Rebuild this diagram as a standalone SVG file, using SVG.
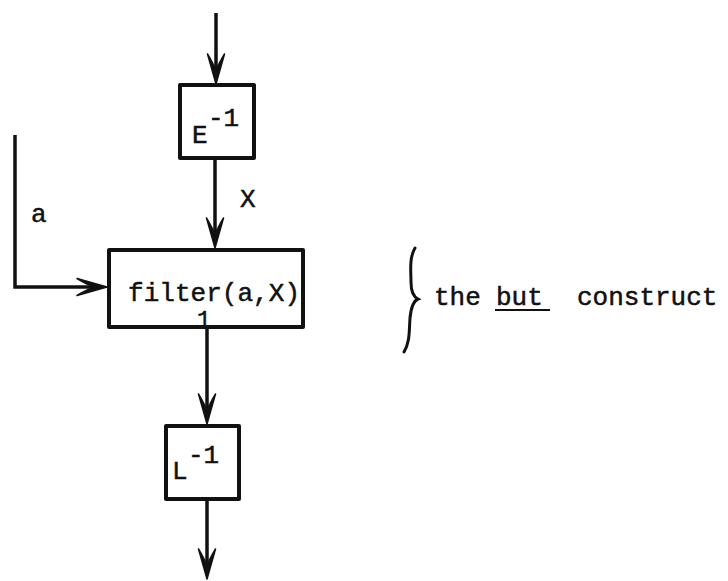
<svg xmlns="http://www.w3.org/2000/svg" width="728" height="581" viewBox="0 0 728 581">
<style>
.box{fill:#fff;stroke:#111;stroke-width:4;stroke-linejoin:round}
.ln{fill:none;stroke:#111;stroke-width:3.5;marker-end:url(#ah)}
.t{font-family:"Liberation Mono","DejaVu Sans Mono",monospace;font-size:26px;fill:#111;stroke:#111;stroke-width:0.5}
</style>
<defs>
<marker id="ah" markerUnits="userSpaceOnUse" viewBox="-32 -10 34 20" markerWidth="34" markerHeight="20" refX="-12" refY="0" orient="auto" overflow="visible">
<path d="M0,0 L-30,-8.5 Q-20,-2.5 -13,0 Q-20,2.5 -30,8.5 Z" fill="#111" stroke="#111" stroke-width="1.5" stroke-linejoin="round"/>
</marker>
</defs>
<rect width="728" height="581" fill="#fff"/>
<g id="connectors">
<path class="ln" d="M216,13 V72"/>
<path class="ln" d="M215,160 V236"/>
<path class="ln" d="M207,329 V412"/>
<path class="ln" d="M207,501 V567"/>
<path class="ln" d="M15,135 V287 H95"/>
</g>
<g id="node-E">
<rect class="box" x="180" y="85" width="74" height="73"/>
<text class="t" x="192" y="143">E</text>
<text class="t" x="208" y="126">-1</text>
</g>
<g id="node-filter">
<rect class="box" x="109" y="250" width="194" height="77"/>
<text class="t" x="128" y="301" textLength="172" lengthAdjust="spacing">filter(a,X)</text>
<text class="t" x="197" y="327" style="font-size:23px">1</text>
</g>
<g id="node-L">
<rect class="box" x="166" y="426" width="73" height="73"/>
<text class="t" x="172" y="479">L</text>
<text class="t" x="188" y="463">-1</text>
</g>
<g id="labels">
<text class="t" x="240" y="207">X</text>
<text class="t" x="31" y="222">a</text>
</g>
<g id="brace">
<path d="M415,248 C409,258 411,272 411,282 C411,292 414,297 418,299 C413,301 411,308 410,318 C409,332 410,342 404,352" fill="none" stroke="#111" stroke-width="3" stroke-linecap="round"/>
<text class="t" x="434" y="305">the</text>
<text class="t" x="496" y="305">but</text>
<line x1="495" y1="310" x2="550" y2="310" stroke="#111" stroke-width="2"/>
<text class="t" x="577" y="305">construct</text>
</g>
</svg>
